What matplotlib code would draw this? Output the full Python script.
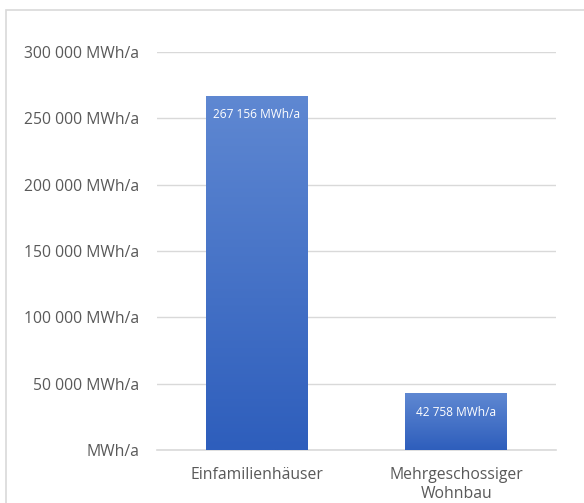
import numpy as np
import matplotlib.pyplot as plt
from matplotlib.colors import LinearSegmentedColormap
from matplotlib.patches import Rectangle

categories = ["Einfamilienhäuser", "Mehrgeschossiger\nWohnbau"]
values = [267156, 42758]
value_labels = ["267 156 MWh/a", "42 758 MWh/a"]
yticks = [0, 50000, 100000, 150000, 200000, 250000, 300000]
ytick_labels = ["MWh/a", "50 000 MWh/a", "100 000 MWh/a", "150 000 MWh/a",
                "200 000 MWh/a", "250 000 MWh/a", "300 000 MWh/a"]

plt.rcParams["font.family"] = ["Open Sans", "DejaVu Sans"]
text_color = "#595959"

fig = plt.figure(figsize=(5.84, 5.03), dpi=100)
fig.patch.set_facecolor("white")
# outer chart border (left and top visible, rest cut off)
fig.patches.append(Rectangle((6 / 584, -0.05), 1.1, 1.05 - 10 / 503,
                             transform=fig.transFigure, fill=False,
                             edgecolor="#D9D9D9", linewidth=1.2))

ax = fig.add_axes([157 / 584, 53 / 503, 399 / 584, 398 / 503])

cmap = LinearSegmentedColormap.from_list("bar", ["#2E5EBC", "#5F88D2"])
grad = np.linspace(0, 1, 256).reshape(-1, 1)
bars = ax.bar(range(len(values)), values, width=0.51, color="none", zorder=3)
for b in bars:
    x0, w, h = b.get_x(), b.get_width(), b.get_height()
    im = ax.imshow(grad, extent=(x0, x0 + w, 0, h), origin="lower",
                   cmap=cmap, aspect="auto", zorder=3)
    im.set_clip_path(b)
ax.set_xlim(-0.5, 1.5)
ax.set_ylim(0, 300000)

for i, (v, lab) in enumerate(zip(values, value_labels)):
    ax.text(i, v - 9500, lab, ha="center", va="top", color="white",
            fontsize=8.6, zorder=4)

ax.set_yticks(yticks)
ax.set_yticklabels(ytick_labels)
ax.set_xticks(range(len(categories)))
ax.set_xticklabels(categories, linespacing=1.3)
ax.tick_params(axis="both", length=0, colors=text_color, labelsize=11.3)
ax.tick_params(axis="y", pad=13)
ax.tick_params(axis="x", pad=12)
ax.yaxis.grid(True, color="#D9D9D9", linewidth=1)
ax.set_axisbelow(True)
for s in ["top", "right", "left"]:
    ax.spines[s].set_visible(False)
ax.spines["bottom"].set_color("#D9D9D9")
ax.spines["bottom"].set_linewidth(1.2)

fig.savefig("out.png", dpi=100)
